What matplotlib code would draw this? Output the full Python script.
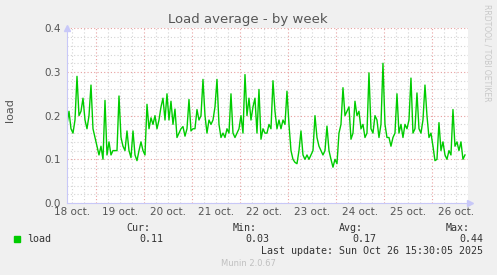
import numpy as np
import matplotlib
matplotlib.use("Agg")
import matplotlib.pyplot as plt
from matplotlib.ticker import MultipleLocator
import matplotlib.transforms as mtransforms

# hourly load samples, starting 18 oct ~09:20
load = [0.18, 0.21, 0.17, 0.16, 0.19, 0.29, 0.20, 0.21, 0.24, 0.19, 0.17, 0.20, 0.27,
        0.17, 0.15, 0.13, 0.11, 0.13, 0.10, 0.235, 0.11, 0.14, 0.11, 0.12, 0.12,
        0.12, 0.245, 0.15, 0.13, 0.12, 0.165, 0.12, 0.104, 0.165, 0.11, 0.097, 0.12, 0.14,
        0.12, 0.11, 0.226, 0.17, 0.195, 0.18, 0.20, 0.17, 0.19, 0.22, 0.24, 0.19,
        0.25, 0.19, 0.233, 0.18, 0.215, 0.15, 0.16, 0.17, 0.175, 0.153, 0.17, 0.237, 0.165,
        0.17, 0.17, 0.214, 0.19, 0.20, 0.283, 0.20, 0.16, 0.19, 0.18, 0.19, 0.22,
        0.283, 0.18, 0.15, 0.16, 0.15, 0.17, 0.16, 0.25, 0.16, 0.15, 0.16, 0.17, 0.20,
        0.16, 0.294, 0.20, 0.24, 0.19, 0.22, 0.24, 0.16, 0.26, 0.146, 0.17, 0.16,
        0.16, 0.18, 0.17, 0.28, 0.21, 0.17, 0.19, 0.17, 0.19, 0.18, 0.256, 0.18, 0.12,
        0.10, 0.093, 0.09, 0.12, 0.165, 0.11, 0.10, 0.11, 0.10, 0.11, 0.12, 0.20,
        0.15, 0.13, 0.12, 0.11, 0.12, 0.176, 0.12, 0.10, 0.082, 0.10, 0.09, 0.16, 0.18,
        0.264, 0.20, 0.21, 0.22, 0.146, 0.16, 0.233, 0.20, 0.21, 0.17, 0.18, 0.15,
        0.16, 0.298, 0.17, 0.16, 0.20, 0.19, 0.15, 0.18, 0.32, 0.18, 0.15, 0.15, 0.13,
        0.15, 0.16, 0.25, 0.16, 0.18, 0.15, 0.18, 0.17, 0.19, 0.286, 0.16, 0.17,
        0.252, 0.17, 0.16, 0.19, 0.27, 0.20, 0.15, 0.16, 0.13, 0.097, 0.10, 0.184, 0.12,
        0.14, 0.11, 0.10, 0.12, 0.11, 0.214, 0.13, 0.14, 0.12, 0.14, 0.10, 0.11]
start_day = 18 + 9.33 / 24
days = [18, 19, 20, 21, 22, 23, 24, 25, 26]
day_labels = ["%d oct." % d for d in days]
stat_names = ["Cur:", "Min:", "Avg:", "Max:"]
stat_values = ["0.11", "0.03", "0.17", "0.44"]

t = start_day + np.arange(len(load)) / 24.0

W, H = 497, 275
fig = plt.figure(figsize=(W / 100, H / 100), dpi=100, facecolor="#f0f0f0")
ax = fig.add_axes([66.7 / W, 1 - 203 / H, 401.3 / W, 174.7 / H])
ax.set_facecolor("white")

ax.set_xlim(18.3826, 26.7436)
ax.set_ylim(0, 0.4)

ax.xaxis.set_major_locator(MultipleLocator(1))
ax.xaxis.set_minor_locator(MultipleLocator(0.25))
ax.yaxis.set_major_locator(MultipleLocator(0.1))
ax.yaxis.set_minor_locator(MultipleLocator(0.02))
ax.grid(which="minor", color="#d4d4d4", ls=(0, (1, 2)), lw=0.8)
ax.grid(which="major", color="#e8a0a0", ls=(0, (1, 2)), lw=0.8)
ax.set_axisbelow(True)

ax.tick_params(axis="x", which="both", length=0, labelbottom=False)
ax.tick_params(axis="y", which="both", length=0, labelsize=7.5, labelcolor="#555555", pad=4)
ax.set_yticks([0, 0.1, 0.2, 0.3, 0.4], ["0.0", "0.1", "0.2", "0.3", "0.4"])

for s in ["top", "right"]:
    ax.spines[s].set_visible(False)
for s in ["left", "bottom"]:
    ax.spines[s].set_color("#c8c8f8")
    ax.spines[s].set_linewidth(0.8)
ax.plot([0], [1], marker="^", color="#c8c8f8", ms=5, transform=ax.transAxes, clip_on=False)
ax.plot([1.005], [0], marker=">", color="#c8c8f8", ms=5, transform=ax.transAxes, clip_on=False)

ax.plot(t, load, color="#00cc00", lw=1.0)

trans = ax.get_xaxis_transform()
off = mtransforms.offset_copy(trans, fig=fig, x=0, y=-9, units="dots")
for d, lab in zip(days, day_labels):
    ax.text(d + 0.5, 0, lab, transform=off, ha="center", va="center",
            fontsize=7.5, color="#555555")

fig.text(248 / W, 1 - 19 / H, "Load average - by week", ha="center", va="center",
         fontsize=9.5, color="#555555")
fig.text(10 / W, 1 - 110 / H, "load", rotation=90, ha="center", va="center",
         fontsize=8, color="#555555")
fig.text(487 / W, 1 - 53 / H, "RRDTOOL / TOBI OETIKER", rotation=270, ha="center",
         va="center", fontsize=5.5, color="#c8c8c8")

mono = "DejaVu Sans Mono"
fig.patches.append(plt.Rectangle((14 / W, 1 - 242 / H), 6 / W, 6 / H,
                                 transform=fig.transFigure, color="#00cc00"))
fig.text(27 / W, 1 - 239 / H, "load", ha="left", va="center", fontsize=7.2,
         family=mono, color="#333333")
name_x = [150, 257, 363, 470]
val_x = [163, 269, 376, 483]
for nx, vx, n, v in zip(name_x, val_x, stat_names, stat_values):
    fig.text(nx / W, 1 - 228 / H, n, ha="right", va="center", fontsize=7.2,
             family=mono, color="#333333")
    fig.text(vx / W, 1 - 239 / H, v, ha="right", va="center", fontsize=7.2,
             family=mono, color="#333333")
fig.text(483 / W, 1 - 251 / H, "Last update: Sun Oct 26 15:30:05 2025", ha="right",
         va="center", fontsize=7.2, family=mono, color="#333333")
fig.text(248 / W, 1 - 264 / H, "Munin 2.0.67", ha="center", va="center",
         fontsize=6, color="#c0c0c0")

fig.savefig("out.png", dpi=100, facecolor=fig.get_facecolor())
